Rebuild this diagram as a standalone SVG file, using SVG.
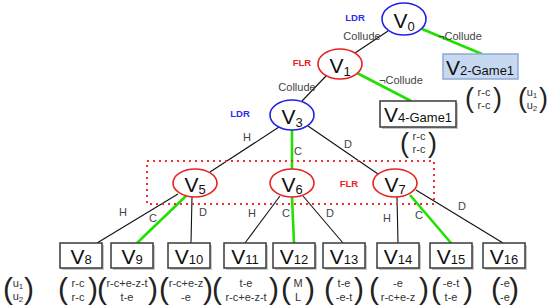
<svg xmlns="http://www.w3.org/2000/svg" width="550" height="308" viewBox="0 0 550 308">
<style>
text{font-family:"Liberation Sans",Arial,sans-serif}
.ldr{fill:#2b2bf0;font-weight:bold;font-size:9.5px;text-anchor:middle}
.flr{fill:#f02020;font-weight:bold;font-size:9.5px;text-anchor:middle}
.lbl{fill:#444;font-size:11px;text-anchor:middle}
.e{stroke:#111;stroke-width:1.1;fill:none}
.g{stroke:#22e000;stroke-width:2.6;fill:none}
.eb{fill:#fff;stroke:#2020e8;stroke-width:1.6}
.er{fill:#fff;stroke:#e82020;stroke-width:1.6}
.box{fill:#fff;stroke:#3a3a3a;stroke-width:1.5}
.sh{fill:#c8c8c8}
.v{font-size:21px;fill:#111;text-anchor:middle}
.s{font-size:13px}
.m{font-size:11px;fill:#333;text-anchor:middle}
.p{font-size:30px;fill:#222}
.pt{font-size:27px;fill:#222}
.r{text-anchor:end}
</style>
<g id="connectors">
<line class="e" x1="388" y1="31" x2="355" y2="53"/>
<line class="g" x1="422" y1="29" x2="482" y2="54"/>
<line class="e" x1="326" y1="76" x2="302" y2="101"/>
<line class="g" x1="357" y1="73" x2="411" y2="101"/>
<line class="e" x1="279" y1="127" x2="210" y2="172"/>
<line class="g" x1="292" y1="130" x2="292" y2="169"/>
<line class="e" x1="308" y1="126" x2="378" y2="174"/>
<line class="e" x1="178" y1="194" x2="97" y2="243"/>
<line class="g" x1="186" y1="196" x2="137" y2="243"/>
<line class="e" x1="192" y1="197" x2="191" y2="243"/>
<line class="e" x1="280" y1="196" x2="245" y2="243"/>
<line class="g" x1="292" y1="197" x2="294" y2="243"/>
<line class="e" x1="303" y1="196" x2="343" y2="243"/>
<line class="e" x1="397" y1="197" x2="398" y2="243"/>
<line class="g" x1="410" y1="195" x2="451" y2="243"/>
<line class="e" x1="416" y1="190" x2="503" y2="243"/>
<text class="lbl" x="362" y="40">Collude</text>
<text class="lbl" x="460" y="40">¬Collude</text>
<text class="lbl" x="401" y="84">¬Collude</text>
<text class="lbl" x="297" y="91">Collude</text>
<text class="lbl" x="247" y="141">H</text>
<text class="lbl" x="298" y="155">C</text>
<text class="lbl" x="348" y="148">D</text>
<text class="lbl" x="123" y="216">H</text>
<text class="lbl" x="153" y="222">C</text>
<text class="lbl" x="203" y="216">D</text>
<text class="lbl" x="252" y="217">H</text>
<text class="lbl" x="286" y="217">C</text>
<text class="lbl" x="330" y="217">D</text>
<text class="lbl" x="387" y="222">H</text>
<text class="lbl" x="419" y="219">C</text>
<text class="lbl" x="462" y="210">D</text>
</g>
<rect x="147" y="161" width="287" height="43" fill="none" stroke="#f03030" stroke-width="2" stroke-dasharray="2 4"/>
<text class="flr" x="349" y="187">FLR</text>
<g id="V0"><ellipse class="eb" cx="404" cy="19" rx="22" ry="16"/><text class="v" x="404" y="28">V<tspan class="s" dy="3">0</tspan></text><text class="ldr" x="355" y="21">LDR</text></g>
<g id="V1"><ellipse class="er" cx="340" cy="64" rx="22" ry="15"/><text class="v" x="340" y="73">V<tspan class="s" dy="3">1</tspan></text><text class="flr" x="302" y="66">FLR</text></g>
<g id="V3"><ellipse class="eb" cx="292" cy="115" rx="22" ry="15"/><text class="v" x="292" y="124">V<tspan class="s" dy="3">3</tspan></text><text class="ldr" x="240" y="117">LDR</text></g>
<g id="V5"><ellipse class="er" cx="195" cy="183" rx="22" ry="14"/><text class="v" x="195" y="192">V<tspan class="s" dy="2">5</tspan></text></g>
<g id="V6"><ellipse class="er" cx="292" cy="183" rx="22" ry="14"/><text class="v" x="292" y="192">V<tspan class="s" dy="2">6</tspan></text></g>
<g id="V7"><ellipse class="er" cx="395" cy="183" rx="22" ry="14"/><text class="v" x="395" y="192">V<tspan class="s" dy="2">7</tspan></text></g>
<g id="V2"><rect x="443" y="54" width="75" height="25" fill="#c6d9f1" stroke="#8fa9d2" stroke-width="1.5"/><text class="v" x="480" y="75">V<tspan class="s">2-Game1</tspan></text>
<text class="pt" x="465" y="107">(</text><text class="pt r" x="502" y="107">)</text><text class="m" x="484" y="96">r-c</text><text class="m" x="484" y="109">r-c</text>
<text class="pt" x="518" y="107">(</text><text class="pt r" x="548" y="107">)</text><text class="m" x="532" y="96">u<tspan font-size="8" dy="2">1</tspan></text><text class="m" x="532" y="109">u<tspan font-size="8" dy="2">2</tspan></text></g>
<g id="V4"><rect class="sh" x="382" y="103" width="76" height="26"/><rect class="box" x="380" y="101" width="76" height="26"/><text class="v" x="418" y="122">V<tspan class="s">4-Game1</tspan></text>
<text class="pt" x="400" y="152">(</text><text class="pt r" x="437" y="152">)</text><text class="m" x="419" y="140">r-c</text><text class="m" x="419" y="153">r-c</text></g>
<g id="V8"><rect class="sh" x="62" y="245" width="42" height="25"/><rect class="box" x="60" y="243" width="42" height="25"/><text class="v" x="81" y="264">V<tspan class="s">8</tspan></text></g>
<g id="V9"><rect class="sh" x="113" y="245" width="42" height="25"/><rect class="box" x="111" y="243" width="42" height="25"/><text class="v" x="132" y="264">V<tspan class="s">9</tspan></text></g>
<g id="V10"><rect class="sh" x="170" y="245" width="42" height="25"/><rect class="box" x="168" y="243" width="42" height="25"/><text class="v" x="189" y="264">V<tspan class="s">10</tspan></text></g>
<g id="V11"><rect class="sh" x="226" y="245" width="42" height="25"/><rect class="box" x="224" y="243" width="42" height="25"/><text class="v" x="245" y="264">V<tspan class="s">11</tspan></text></g>
<g id="V12"><rect class="sh" x="275" y="245" width="42" height="25"/><rect class="box" x="273" y="243" width="42" height="25"/><text class="v" x="294" y="264">V<tspan class="s">12</tspan></text></g>
<g id="V13"><rect class="sh" x="325" y="245" width="42" height="25"/><rect class="box" x="323" y="243" width="42" height="25"/><text class="v" x="344" y="264">V<tspan class="s">13</tspan></text></g>
<g id="V14"><rect class="sh" x="379" y="245" width="42" height="25"/><rect class="box" x="377" y="243" width="42" height="25"/><text class="v" x="398" y="264">V<tspan class="s">14</tspan></text></g>
<g id="V15"><rect class="sh" x="432" y="245" width="42" height="25"/><rect class="box" x="430" y="243" width="42" height="25"/><text class="v" x="451" y="264">V<tspan class="s">15</tspan></text></g>
<g id="V16"><rect class="sh" x="485" y="245" width="42" height="25"/><rect class="box" x="483" y="243" width="42" height="25"/><text class="v" x="504" y="264">V<tspan class="s">16</tspan></text></g>
<g id="payoffs">
<text class="p" x="3" y="299">(</text><text class="p r" x="34" y="299">)</text><text class="m" x="18" y="287">u<tspan font-size="8" dy="2">1</tspan></text><text class="m" x="18" y="300">u<tspan font-size="8" dy="2">2</tspan></text>
<text class="p" x="58" y="299">(</text><text class="p r" x="98" y="299">)</text><text class="m" x="78" y="287">r-c</text><text class="m" x="78" y="301">r-c</text>
<text class="p" x="97" y="299">(</text><text class="p r" x="158" y="299">)</text><text class="m" x="127" y="287">r-c+e-z-t</text><text class="m" x="127" y="301">t-e</text>
<text class="p" x="159" y="299">(</text><text class="p r" x="213" y="299">)</text><text class="m" x="186" y="287">r-c+e-z</text><text class="m" x="186" y="301">-e</text>
<text class="p" x="212" y="299">(</text><text class="p r" x="279" y="299">)</text><text class="m" x="246" y="287">t-e</text><text class="m" x="246" y="301">r-c+e-z-t</text>
<text class="p" x="281" y="299">(</text><text class="p r" x="315" y="299">)</text><text class="m" x="298" y="287">M</text><text class="m" x="298" y="301">L</text>
<text class="p" x="324" y="299">(</text><text class="p r" x="364" y="299">)</text><text class="m" x="344" y="287">t-e</text><text class="m" x="344" y="301">-e-t</text>
<text class="p" x="369" y="299">(</text><text class="p r" x="429" y="299">)</text><text class="m" x="398" y="287">-e</text><text class="m" x="398" y="301">r-c+e-z</text>
<text class="p" x="431" y="299">(</text><text class="p r" x="473" y="299">)</text><text class="m" x="451" y="287">-e-t</text><text class="m" x="451" y="301">t-e</text>
<text class="p" x="491" y="299">(</text><text class="p r" x="519" y="299">)</text><text class="m" x="505" y="287">-e</text><text class="m" x="505" y="301">-e</text>
</g>
</svg>
